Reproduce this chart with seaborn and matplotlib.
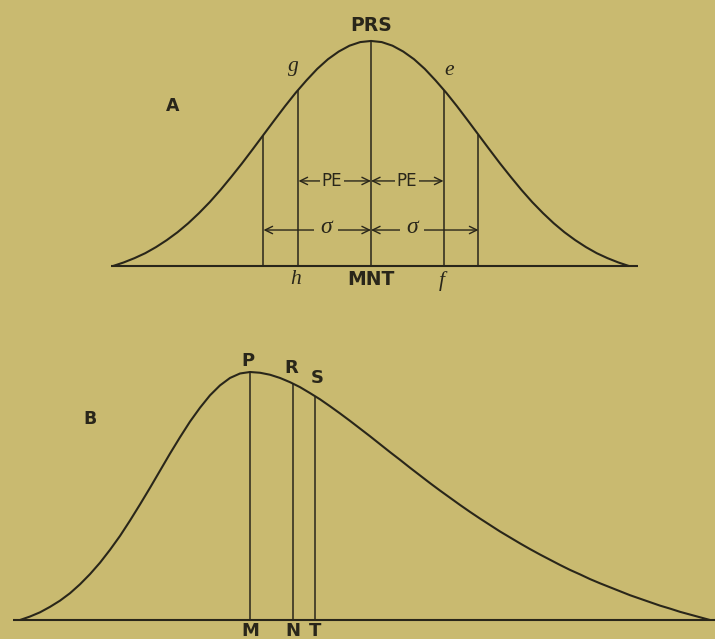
import numpy as np
import matplotlib
matplotlib.use("Agg")
import matplotlib.pyplot as plt
import seaborn as sns

# ---- Curve A: normal curve, abscissa in sigma units, ordinate relative to the maximum
a_z = np.round(np.linspace(-2.4, 2.4, 49), 2)
a_height = [0.000, 0.016, 0.035, 0.057, 0.084, 0.115, 0.150, 0.190, 0.235, 0.284,
            0.338, 0.396, 0.456, 0.519, 0.583, 0.647, 0.710, 0.770, 0.825, 0.876,
            0.919, 0.953, 0.979, 0.995, 1.000, 0.995, 0.979, 0.953, 0.919, 0.876,
            0.825, 0.770, 0.710, 0.647, 0.583, 0.519, 0.456, 0.396, 0.338, 0.284,
            0.235, 0.190, 0.150, 0.115, 0.084, 0.057, 0.035, 0.016, 0.000]
# ordinates: -sigma, -PE, mean, +PE, +sigma
a_ord_x = [-1.0, -0.6745, 0.0, 0.6745, 1.0]
a_ord_top = [0.583, 0.784, 1.000, 0.784, 0.583]

# ---- Curve B: skewed curve, abscissa in score units, ordinate relative to the maximum
b_u = np.arange(0, 70)
b_height = [0.000, 0.014, 0.031, 0.053, 0.078, 0.108, 0.144, 0.185, 0.231, 0.283,
            0.339, 0.401, 0.466, 0.533, 0.602, 0.671, 0.737, 0.800, 0.856, 0.906,
            0.946, 0.976, 0.994, 1.000, 0.997, 0.989, 0.976, 0.959, 0.939, 0.915,
            0.890, 0.862, 0.833, 0.803, 0.772, 0.741, 0.709, 0.677, 0.646, 0.614,
            0.583, 0.552, 0.522, 0.493, 0.464, 0.436, 0.409, 0.383, 0.357, 0.333,
            0.309, 0.286, 0.264, 0.243, 0.222, 0.202, 0.184, 0.165, 0.148, 0.132,
            0.116, 0.100, 0.086, 0.072, 0.058, 0.046, 0.033, 0.022, 0.011, 0.000]
# ordinates: mode (M), median (N), mean (T)
b_ord_x = [23.0, 27.3, 29.5]
b_ord_top = [1.000, 0.953, 0.903]
b_top_labels = ["P", "R", "S"]
b_base_labels = ["M", "N", "T"]

PAPER = "#c9ba70"
INK = "#29261a"

sns.set_theme(style="white", rc={"axes.facecolor": PAPER, "figure.facecolor": PAPER})
plt.rcParams["font.family"] = ["DejaVu Sans"]

fig = plt.figure(figsize=(7.15, 6.39), dpi=100)
ax_a = fig.add_axes([0, 0.5305, 1, 0.4695])
ax_b = fig.add_axes([0, 0, 1, 0.5305])
for ax in (ax_a, ax_b):
    ax.set_axis_off()

sans = dict(family="DejaVu Sans", fontweight="bold", color=INK, ha="center", va="center")
serif_it = dict(family="Liberation Serif", style="italic", color=INK, ha="center", va="center")

# ---------------- A ----------------
ax_a.set_xlim(-3.451, 3.200)
ax_a.set_ylim(-0.151, 1.182)
sns.lineplot(x=a_z, y=a_height, ax=ax_a, color=INK, lw=1.5, sort=False)
ax_a.hlines(0, -2.42, 2.48, color=INK, lw=1.5)
ax_a.vlines(a_ord_x, 0, a_ord_top, color=INK, lw=1.1)

ax_a.text(0, 1.067, "PRS", fontsize=13.5, **sans)
ax_a.text(-1.842, 0.711, "A", fontsize=12.5, **sans)
ax_a.text(-0.72, 0.885, "g", fontsize=15.5, **serif_it)
ax_a.text(0.73, 0.868, "e", fontsize=15.5, **serif_it)
ax_a.text(-0.70, -0.062, "h", fontsize=15.5, **serif_it)
ax_a.text(0.0, -0.058, "MNT", fontsize=13.5, **sans)
ax_a.text(0.66, -0.068, "f", fontsize=15.5, **serif_it)

arrow_kw = dict(arrowstyle="<->,head_length=0.45,head_width=0.22",
                color=INK, lw=1.0, shrinkA=0, shrinkB=0)
mask = dict(boxstyle="square,pad=0.08", facecolor=PAPER, edgecolor="none")

# probable-error spans
pe_y = 0.378
for x0, x1, xt in [(-0.6745, 0.0, -0.363), (0.0, 0.6745, 0.335)]:
    ax_a.annotate("", xy=(x0, pe_y), xytext=(x1, pe_y), arrowprops=arrow_kw)
    ax_a.text(xt, pe_y, "PE", fontsize=12, bbox=mask,
              **{**sans, "fontweight": "normal"})

# standard-deviation spans
sd_y = 0.160
for x0, x1, xt in [(-1.0, 0.0, -0.419), (0.0, 1.0, 0.381)]:
    ax_a.annotate("", xy=(x0, sd_y), xytext=(x1, sd_y), arrowprops=arrow_kw)
    ax_a.text(xt, sd_y + 0.01, "σ", fontsize=17,
              bbox=dict(boxstyle="square,pad=0.25", facecolor=PAPER, edgecolor="none"),
              **serif_it)

# ---------------- B ----------------
ax_b.set_xlim(-2.0, 69.5)
ax_b.set_ylim(-0.0766, 1.2903)
sns.lineplot(x=b_u, y=b_height, ax=ax_b, color=INK, lw=1.5, sort=False)
ax_b.hlines(0, -0.7, 69.5, color=INK, lw=1.5)
ax_b.vlines(b_ord_x, 0, b_ord_top, color=INK, lw=1.1)

ax_b.text(7.0, 0.81, "B", fontsize=12.5, **sans)
for xv, top, lab, dx, dy in zip(b_ord_x, b_ord_top, b_top_labels,
                                [-0.2, -0.2, 0.2], [0.044, 0.063, 0.073]):
    ax_b.text(xv + dx, top + dy, lab, fontsize=13, **sans)
for xv, lab in zip(b_ord_x, b_base_labels):
    ax_b.text(xv, -0.045, lab, fontsize=13, **sans)

fig.savefig("out.png", dpi=100, facecolor=PAPER)
